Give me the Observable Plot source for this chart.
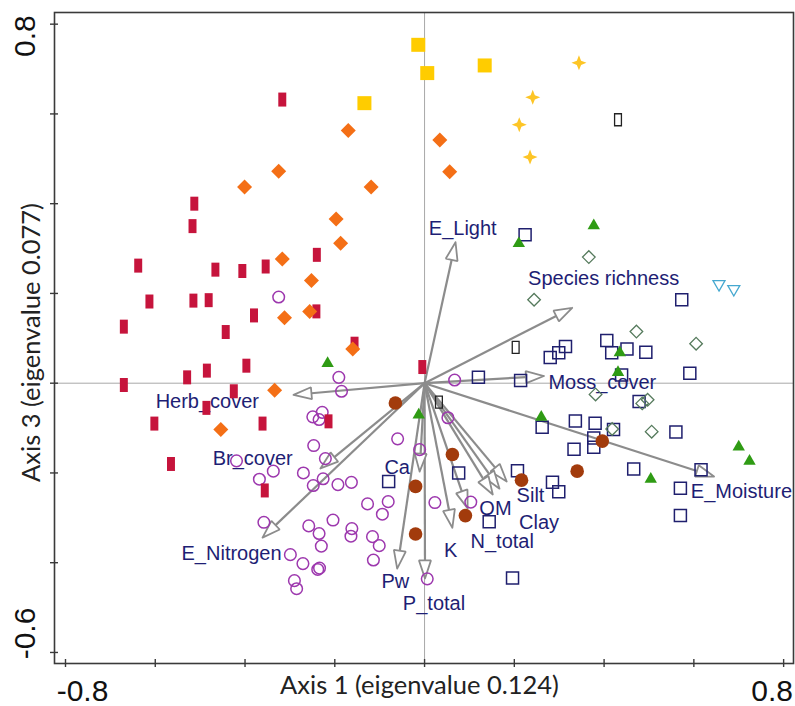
<!DOCTYPE html>
<html><head><meta charset="utf-8">
<script src="https://cdn.jsdelivr.net/npm/d3@7"></script>
<script src="https://cdn.jsdelivr.net/npm/@observablehq/plot@0.6"></script>
<style>html,body{margin:0;padding:0;background:#fff}</style>
</head><body><div id="chart"></div>
<script>
// ---- sample scores (Axis 1, Axis 3) by group ----
const redRects = [[-0.317,0.632],[-0.513,0.400],[-0.517,0.350],[-0.638,0.262],[-0.466,0.253],[-0.406,0.250],[-0.354,0.260],[-0.240,0.286],[-0.613,0.182],[-0.515,0.184],[-0.481,0.185],[-0.380,0.151],[-0.241,0.160],[-0.670,0.126],[-0.443,0.114],[-0.156,0.088],[-0.397,0.039],[-0.485,0.028],[-0.529,0.013],[-0.670,-0.004],[-0.425,-0.018],[-0.005,0.036],[-0.486,-0.055],[-0.602,-0.090],[-0.361,-0.090],[-0.214,-0.085],[-0.565,-0.180],[-0.356,-0.239]];
const orangeDiamonds = [[-0.170,0.563],[0.034,0.542],[0.056,0.471],[-0.325,0.472],[-0.401,0.437],[-0.119,0.437],[-0.197,0.366],[-0.187,0.312],[-0.317,0.277],[-0.252,0.229],[-0.312,0.146],[-0.256,0.160],[-0.160,0.076],[-0.334,-0.016],[-0.454,-0.103]];
const yellowSquares = [[-0.014,0.754],[0.006,0.691],[0.134,0.708],[-0.134,0.624]];
const goldStars = [[0.344,0.714],[0.241,0.637],[0.211,0.576],[0.235,0.504]];
const blackRects = [[0.431,0.587],[0.203,0.080],[0.032,-0.042]];
const purpleCircles = [[-0.325,0.192],[-0.191,0.013],[-0.185,-0.018],[0.067,0.007],[-0.249,-0.075],[-0.228,-0.065],[-0.235,-0.081],[0.052,-0.077],[-0.060,-0.124],[-0.011,-0.148],[-0.247,-0.139],[-0.221,-0.168],[-0.419,-0.173],[-0.337,-0.196],[-0.368,-0.214],[-0.270,-0.200],[-0.248,-0.228],[-0.226,-0.213],[-0.193,-0.226],[-0.163,-0.221],[-0.358,-0.310],[-0.258,-0.318],[-0.235,-0.335],[-0.204,-0.305],[-0.162,-0.324],[-0.164,-0.341],[-0.230,-0.363],[-0.127,-0.269],[-0.081,-0.264],[-0.094,-0.292],[-0.116,-0.342],[-0.101,-0.362],[-0.114,-0.394],[0.023,-0.266],[0.103,-0.265],[-0.299,-0.382],[-0.271,-0.402],[-0.238,-0.415],[-0.234,-0.412],[-0.290,-0.440],[-0.285,-0.458],[0.006,-0.436]];
const brownCircles = [[-0.065,-0.044],[-0.020,-0.230],[-0.020,-0.336],[0.062,-0.159],[0.091,-0.295],[0.216,-0.216],[0.340,-0.196],[0.396,-0.129]];
const greenTriangles = [[0.377,0.354],[0.210,0.314],[0.435,0.071],[0.431,0.027],[0.260,-0.073],[0.700,-0.139],[0.724,-0.171],[0.504,-0.211],[-0.216,0.047],[-0.013,-0.068]];
const navySquares = [[0.224,0.331],[0.573,0.186],[0.406,0.095],[0.314,0.082],[0.299,0.068],[0.280,0.057],[0.417,0.068],[0.451,0.076],[0.493,0.069],[0.439,0.018],[0.591,0.022],[0.120,0.013],[0.214,0.006],[0.478,-0.041],[0.336,-0.084],[0.380,-0.089],[0.421,-0.103],[0.262,-0.098],[0.560,-0.109],[0.377,-0.122],[0.377,-0.143],[0.333,-0.147],[0.466,-0.191],[0.207,-0.195],[0.076,-0.200],[0.616,-0.193],[0.285,-0.221],[0.299,-0.242],[0.570,-0.234],[0.570,-0.295],[0.144,-0.309],[0.196,-0.434],[-0.080,-0.219]];
const greyDiamonds = [[0.366,0.281],[0.244,0.186],[0.472,0.115],[0.605,0.088],[0.381,-0.025],[0.485,-0.045],[0.497,-0.037],[0.418,-0.102],[0.506,-0.108]];
const blueTriangles = [[0.656,0.218],[0.689,0.207]];

// ---- environmental variable vectors ----
const envNames = ["E_Light","Species richness","Moss_cover","E_Moisture","Silt","Clay","OM","N_total","K","P_total","Pw","Ca","E_Nitrogen","Br_cover","Herb_cover"];
const envX = [0.069,0.329,0.266,0.645,0.183,0.167,0.152,0.096,0.062,0.001,-0.061,-0.011,-0.361,-0.232,-0.292];
const envY = [0.314,0.168,0.016,-0.208,-0.219,-0.235,-0.248,-0.279,-0.322,-0.435,-0.413,-0.197,-0.344,-0.190,-0.026];
const labelX = [0.085,0.399,0.396,0.706,0.236,0.255,0.158,0.173,0.058,0.021,-0.065,-0.061,-0.430,-0.383,-0.484];
const labelY = [0.345,0.233,0.002,-0.241,-0.250,-0.310,-0.280,-0.354,-0.373,-0.492,-0.443,-0.187,-0.379,-0.168,-0.042];

// ---- axes ----
const xTicks = [-0.8,-0.6,-0.4,-0.2,0,0.2,0.4,0.6,0.8];
const yTicks = [-0.6,-0.4,-0.2,0,0.2,0.4,0.6,0.8];
const xTitle = "Axis 1 (eigenvalue 0.124)";
const yTitle = "Axis 3 (eigenvalue 0.077)";

const W = 795, H = 706, ML = 54, MR = 2, MT = 12, MB = 43;
const xDom = [-0.8245, 0.822], yDom = [-0.6246, 0.826];
const PX = (W - ML - MR) / (xDom[1] - xDom[0]);
const T = 4 / PX;

const sym = f => ({draw(c, size) { f(c, Math.sqrt(size / Math.PI)); }});
const poly = (c, pts) => { c.moveTo(pts[0][0], pts[0][1]); for (let i = 1; i < pts.length; i++) c.lineTo(pts[i][0], pts[i][1]); c.closePath(); };
const vRect = sym((c, r) => { const w = r * 0.57; poly(c, [[-w,-r],[w,-r],[w,r],[-w,r]]); });
const square = sym((c, r) => poly(c, [[-r,-r],[r,-r],[r,r],[-r,r]]));
const diamond = sym((c, r) => poly(c, [[0,-r],[r,0],[0,r],[-r,0]]));
const triUp = sym((c, r) => poly(c, [[0,-0.95*r],[r,0.78*r],[-r,0.78*r]]));
const triDown = sym((c, r) => poly(c, [[0,0.95*r],[r,-0.78*r],[-r,-0.78*r]]));
const star4 = sym((c, r) => { const p = []; for (let i = 0; i < 8; i++) { const a = i * Math.PI / 4 - Math.PI / 2, rr = i % 2 ? 0.4 * r : r; p.push([rr * Math.cos(a), rr * Math.sin(a)]); } poly(c, p); });

const env = envNames.map((name, i) => {
  const x = envX[i], y = envY[i], len = Math.hypot(x, y), ux = x / len, uy = y / len;
  const HL = 18 / PX;
  return {name, x, y, bx: x - ux * HL, by: y - uy * HL, ux, uy, lx: labelX[i], ly: labelY[i]};
});
const heads = [];
env.forEach((d, i) => {
  const HW = 6 / PX, nx = -d.uy, ny = d.ux;
  heads.push({i, x: d.x, y: d.y}, {i, x: d.bx + nx * HW, y: d.by + ny * HW}, {i, x: d.bx - nx * HW, y: d.by - ny * HW}, {i, x: d.x, y: d.y});
});

const pts = (data, opts) => Plot.dot(data, {x: d => d[0], y: d => d[1], ...opts});
const labelFont = "Liberation Sans, Arial, sans-serif";
const titleFont = "Lato, Open Sans, sans-serif";

const chart = Plot.plot({
  width: W, height: H,
  marginLeft: ML, marginRight: MR, marginTop: MT, marginBottom: MB,
  x: {domain: xDom, axis: null},
  y: {domain: yDom, axis: null},
  style: {background: "#fff", fontFamily: labelFont},
  marks: [
    Plot.ruleX([0], {stroke: "#a8a8a8", strokeWidth: 1}),
    Plot.ruleY([0], {stroke: "#a8a8a8", strokeWidth: 1}),
    Plot.frame({stroke: "#3a3a3a", strokeWidth: 1.6}),
    Plot.ruleX(xTicks, {x: d => d, y1: () => yDom[0] - T, y2: () => yDom[0] + T, stroke: "#3a3a3a", strokeWidth: 1.4}),
    Plot.ruleY(yTicks, {y: d => d, x1: () => xDom[0] - T, x2: () => xDom[0] + T, stroke: "#3a3a3a", strokeWidth: 1.4}),
    // tick labels (only extremes shown)
    Plot.text([xTicks[0]], {x: d => d, frameAnchor: "bottom", text: () => "-0.8", textAnchor: "middle", dx: 17, dy: 28, fontSize: 30, lineAnchor: "middle", fill: "#111"}),
    Plot.text([xTicks[xTicks.length - 1]], {x: d => d, frameAnchor: "bottom", text: () => "0.8", textAnchor: "middle", dx: -11.5, dy: 28, fontSize: 30, lineAnchor: "middle", fill: "#111"}),
    Plot.text([yTicks[yTicks.length - 1]], {y: d => d, frameAnchor: "left", text: () => "0.8", textAnchor: "middle", rotate: -90, dx: -29, dy: 12, fontSize: 30, lineAnchor: "middle", fill: "#111"}),
    Plot.text([yTicks[0]], {y: d => d, frameAnchor: "left", text: () => "-0.6", textAnchor: "middle", rotate: -90, dx: -29, dy: -19, fontSize: 30, lineAnchor: "middle", fill: "#111"}),
    Plot.text([xTitle], {frameAnchor: "bottom", text: d => d, textAnchor: "middle", dx: -4.5, dy: 22, fontSize: 25.5, fontFamily: titleFont, lineAnchor: "middle", fill: "#222"}),
    Plot.text([yTitle], {frameAnchor: "left", text: d => d, textAnchor: "middle", rotate: -90, dx: -23, dy: 4.5, fontSize: 25.5, fontFamily: titleFont, lineAnchor: "middle", fill: "#222"}),
    // vectors
    Plot.link(env, {x1: () => 0, y1: () => 0, x2: "bx", y2: "by", stroke: "#8c8c8c", strokeWidth: 2.2}),
    Plot.line(heads, {x: "x", y: "y", z: "i", stroke: "#8c8c8c", strokeWidth: 1.8, fill: "white", strokeLinejoin: "miter"}),
    Plot.text(env, {x: "lx", y: "ly", text: "name", fontSize: 20, fill: "#1e1e74", lineAnchor: "middle"}),
    // samples
    pts(purpleCircles, {r: 5.8, stroke: "#9d38ae", strokeWidth: 1.5, fill: "none"}),
    pts(redRects, {symbol: vRect, r: 7, fill: "#c6143c", stroke: "none"}),
    pts(orangeDiamonds, {symbol: diamond, r: 7.5, fill: "#f46f16", stroke: "none"}),
    pts(yellowSquares, {symbol: square, r: 7, fill: "#ffcc00", stroke: "none"}),
    pts(goldStars, {symbol: star4, r: 7.5, fill: "#fdc526", stroke: "none"}),
    pts(navySquares, {symbol: square, r: 6, fill: "none", stroke: "#1f1f6e", strokeWidth: 1.5}),
    pts(greyDiamonds, {symbol: diamond, r: 6.3, fill: "none", stroke: "#557a5c", strokeWidth: 1.3}),
    pts(brownCircles, {r: 6.8, fill: "#a23b0c", stroke: "none"}),
    pts(greenTriangles, {symbol: triUp, r: 6.2, fill: "#2f9b14", stroke: "none"}),
    pts(blackRects, {symbol: vRect, r: 6, fill: "none", stroke: "#222", strokeWidth: 1.3}),
    pts(blueTriangles, {symbol: triDown, r: 6, fill: "none", stroke: "#45a8d0", strokeWidth: 1.3})
  ]
});
document.getElementById("chart").appendChild(chart);
</script>
</body></html>
